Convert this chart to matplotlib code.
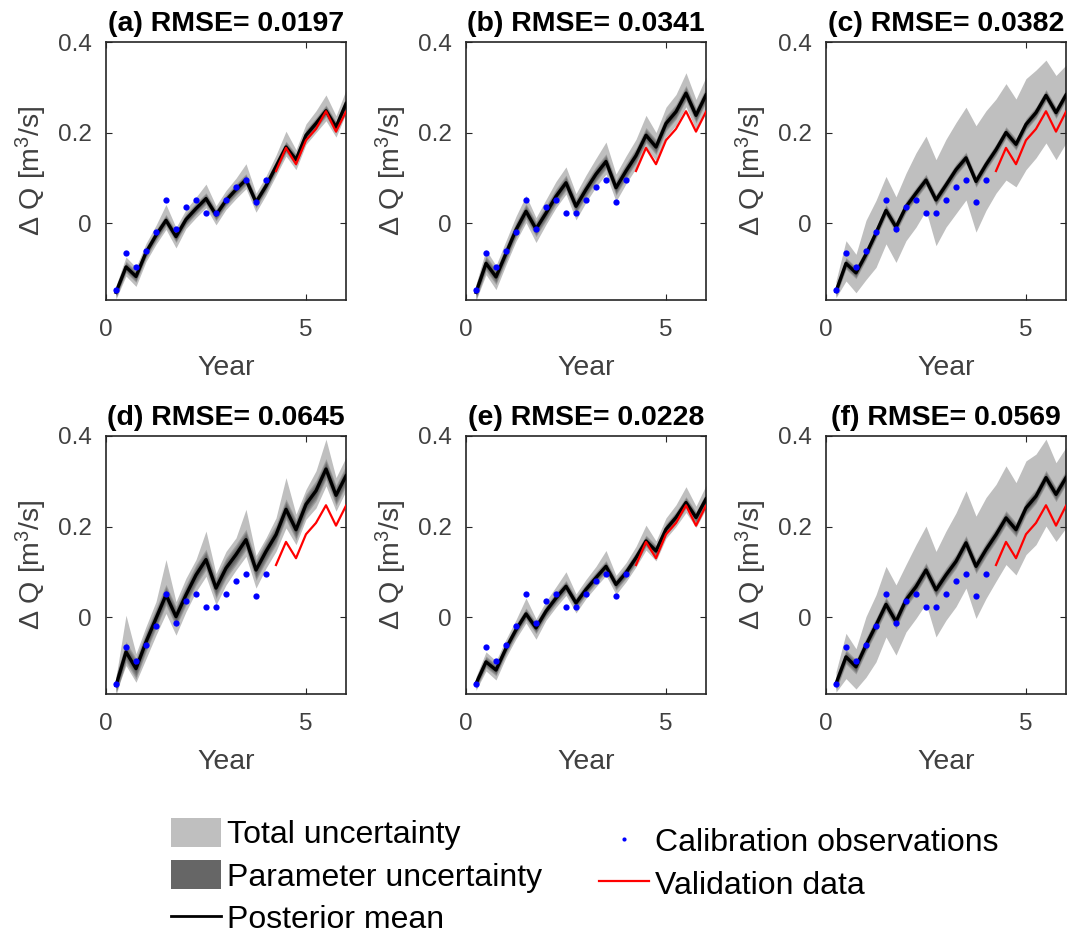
import numpy as np
import matplotlib
matplotlib.use('Agg')
from matplotlib import pyplot as plt
from matplotlib.patches import Patch
from matplotlib.lines import Line2D

plt.rcParams['font.family'] = ['Liberation Sans', 'DejaVu Sans']
plt.rcParams['mathtext.fontset'] = 'custom'
plt.rcParams['mathtext.rm'] = 'Liberation Sans'
plt.rcParams['mathtext.it'] = 'Liberation Sans:italic'

# quarterly time steps, calibration up to year 4, validation afterwards
t = np.arange(1, 25) * 0.25
n_cal = 16

obs = [-0.147, -0.067, -0.097, -0.061, -0.019, 0.051, -0.014, 0.035,
       0.050, 0.023, 0.023, 0.052, 0.080, 0.095, 0.046, 0.095]
valid = [0.115, 0.166, 0.130, 0.183, 0.208, 0.247, 0.202, 0.246]

titles = ['(a) RMSE= 0.0197', '(b) RMSE= 0.0341', '(c) RMSE= 0.0382',
          '(d) RMSE= 0.0645', '(e) RMSE= 0.0228', '(f) RMSE= 0.0569']

mean_a = [-0.153, -0.097, -0.118, -0.065, -0.027, 0.006, -0.030, 0.008, 0.032, 0.054, 0.018, 0.050,
          0.074, 0.096, 0.046, 0.082, 0.125, 0.168, 0.140, 0.194, 0.220, 0.248, 0.212, 0.264]
hi_a = [-0.138, -0.075, -0.098, -0.045, -0.005, 0.041, -0.010, 0.030, 0.057, 0.086, 0.038, 0.072,
        0.099, 0.131, 0.066, 0.104, 0.150, 0.203, 0.162, 0.219, 0.248, 0.283, 0.237, 0.294]
lo_a = [-0.168, -0.117, -0.140, -0.085, -0.047, -0.014, -0.055, -0.012, 0.012, 0.034, -0.004, 0.030,
        0.054, 0.076, 0.024, 0.062, 0.105, 0.148, 0.118, 0.174, 0.200, 0.226, 0.190, 0.242]

mean_b = [-0.153, -0.089, -0.119, -0.067, -0.015, 0.026, -0.013, 0.022, 0.059, 0.089, 0.037, 0.074,
          0.108, 0.136, 0.078, 0.115, 0.149, 0.194, 0.168, 0.220, 0.246, 0.287, 0.238, 0.283]
hi_b = [-0.135, -0.059, -0.094, -0.039, 0.015, 0.061, 0.012, 0.052, 0.092, 0.124, 0.065, 0.106,
        0.143, 0.179, 0.108, 0.148, 0.185, 0.238, 0.200, 0.256, 0.284, 0.332, 0.273, 0.323]
lo_b = [-0.171, -0.114, -0.147, -0.092, -0.040, 0.001, -0.043, -0.003, 0.034, 0.064, 0.007, 0.046,
        0.080, 0.108, 0.048, 0.087, 0.121, 0.166, 0.138, 0.190, 0.216, 0.257, 0.206, 0.253]

mean_c = [-0.151, -0.089, -0.110, -0.069, -0.022, 0.028, -0.009, 0.036, 0.066, 0.095, 0.051, 0.084,
          0.118, 0.144, 0.092, 0.129, 0.162, 0.200, 0.174, 0.218, 0.244, 0.282, 0.244, 0.283]
hi_c = [-0.128, -0.039, -0.069, 0.006, 0.050, 0.103, 0.058, 0.110, 0.155, 0.192, 0.140, 0.185,
        0.222, 0.256, 0.215, 0.248, 0.274, 0.308, 0.274, 0.319, 0.338, 0.360, 0.326, 0.349]
lo_c = [-0.165, -0.128, -0.154, -0.125, -0.098, -0.046, -0.087, -0.039, -0.009, 0.028, -0.050, -0.009,
        0.021, 0.051, -0.020, 0.028, 0.066, 0.095, 0.080, 0.118, 0.144, 0.177, 0.140, 0.177]

mean_d = [-0.151, -0.077, -0.114, -0.055, -0.003, 0.049, 0.001, 0.049, 0.093, 0.127, 0.064, 0.108,
          0.138, 0.171, 0.104, 0.145, 0.182, 0.238, 0.193, 0.249, 0.279, 0.327, 0.269, 0.312]
hi_d = [-0.133, 0.004, -0.081, -0.021, 0.034, 0.127, 0.034, 0.086, 0.127, 0.190, 0.096, 0.145,
        0.175, 0.238, 0.136, 0.175, 0.219, 0.308, 0.227, 0.282, 0.323, 0.393, 0.308, 0.353]
lo_d = [-0.166, -0.107, -0.144, -0.092, -0.040, 0.008, -0.040, 0.012, 0.056, 0.090, 0.027, 0.071,
        0.104, 0.134, 0.064, 0.108, 0.145, 0.197, 0.160, 0.216, 0.241, 0.290, 0.234, 0.279]

mean_e = [-0.147, -0.099, -0.117, -0.069, -0.028, 0.007, -0.024, 0.013, 0.042, 0.068, 0.031, 0.061,
          0.087, 0.112, 0.072, 0.098, 0.131, 0.168, 0.146, 0.194, 0.220, 0.253, 0.220, 0.261]
hi_e = [-0.132, -0.077, -0.097, -0.049, -0.006, 0.042, -0.004, 0.035, 0.067, 0.100, 0.051, 0.083,
        0.112, 0.147, 0.092, 0.120, 0.156, 0.203, 0.168, 0.219, 0.248, 0.288, 0.245, 0.291]
lo_e = [-0.162, -0.119, -0.139, -0.089, -0.048, -0.013, -0.049, -0.007, 0.022, 0.048, 0.009, 0.041,
        0.067, 0.092, 0.050, 0.078, 0.111, 0.148, 0.124, 0.174, 0.200, 0.231, 0.198, 0.239]

mean_f = [-0.147, -0.088, -0.110, -0.062, -0.018, 0.028, -0.010, 0.038, 0.067, 0.104, 0.060, 0.093,
          0.123, 0.164, 0.112, 0.149, 0.182, 0.219, 0.193, 0.241, 0.267, 0.308, 0.271, 0.308]
hi_f = [-0.121, -0.036, -0.070, 0.001, 0.049, 0.112, 0.071, 0.116, 0.160, 0.201, 0.145, 0.190,
        0.230, 0.279, 0.223, 0.264, 0.293, 0.334, 0.297, 0.345, 0.360, 0.393, 0.341, 0.375]
lo_f = [-0.166, -0.136, -0.159, -0.133, -0.099, -0.044, -0.084, -0.033, -0.003, 0.030, -0.044, -0.007,
        0.023, 0.064, -0.003, 0.041, 0.079, 0.116, 0.093, 0.138, 0.160, 0.201, 0.167, 0.197]

means = [mean_a, mean_b, mean_c, mean_d, mean_e, mean_f]
his = [hi_a, hi_b, hi_c, hi_d, hi_e, hi_f]
los = [lo_a, lo_b, lo_c, lo_d, lo_e, lo_f]
# half width of the parameter uncertainty band in each panel
par_hw = [0.013, 0.017, 0.013, 0.023, 0.013, 0.016]

c_total = '#bfbfbf'
c_param = '#666666'
c_text = '#404040'
c_axis = '#262626'

fig = plt.figure(figsize=(10.78, 9.38), dpi=100)
W, H = 1078.0, 938.0
lefts = [106, 466, 826]
tops = [42, 436]
aw, ah = 240, 258

for k in range(6):
    row, col = divmod(k, 3)
    x0 = lefts[col]
    y0 = tops[row]
    ax = fig.add_axes([x0 / W, 1 - (y0 + ah) / H, aw / W, ah / H])

    m = np.array(means[k])
    ax.fill_between(t, los[k], his[k], color=c_total, lw=0, zorder=1)
    # parameter band drawn as stacked layers so it darkens towards the mean
    for f in [1.0, 0.8, 0.6, 0.4, 0.2]:
        ax.fill_between(t, m - f * par_hw[k], m + f * par_hw[k],
                        color='#2a2a2a', alpha=0.22, lw=0, zorder=2)
    ax.plot(t, m, color='k', lw=2.4, zorder=3)
    ax.plot(t[n_cal:], valid, color='#ff0000', lw=1.6, zorder=4)
    ax.plot(t[:n_cal], obs, 'o', color='#0000ff', ms=4.5, mec='none', zorder=5)

    ax.set_xlim(0, 6)
    ax.set_ylim(-0.17, 0.40)
    ax.set_xticks([0, 5])
    ax.set_xticklabels(['0', '5'])
    ax.set_yticks([0, 0.2, 0.4])
    ax.set_yticklabels(['0', '0.2', '0.4'])
    ax.tick_params(direction='in', top=True, right=True, length=4, width=0.8,
                   colors=c_axis, labelcolor=c_text, labelsize=17.5)
    ax.tick_params(axis='x', pad=14)
    ax.tick_params(axis='y', pad=10)
    for s in ax.spines.values():
        s.set_color(c_axis)
        s.set_linewidth(1.2)

    ax.set_xlabel('Year', fontsize=20.5, color=c_text, labelpad=10)
    ax.set_ylabel('Δ Q [m$^3$/s]', fontsize=20.5, color=c_text, labelpad=7)
    ax.set_title(titles[k], fontsize=20.5, fontweight='bold', color='k', pad=8)

h_left = [Patch(facecolor=c_total, edgecolor='none'),
          Patch(facecolor=c_param, edgecolor='none'),
          Line2D([], [], color='k', lw=2)]
l_left = ['Total uncertainty', 'Parameter uncertainty', 'Posterior mean']
h_right = [Line2D([], [], ls='none', marker='o', ms=3, color='#0000ff', mec='none'),
           Line2D([], [], color='#ff0000', lw=1.6)]
l_right = ['Calibration observations', 'Validation data']

leg_kw = dict(frameon=False, fontsize=23, handlelength=1.55, handleheight=1.0,
              handletextpad=0.2, labelspacing=0.32, borderaxespad=0, borderpad=0,
              loc='upper left')
fig.legend(h_left, l_left, bbox_to_anchor=(171 / W, 1 - 818 / H), **leg_kw)
fig.legend(h_right, l_right, bbox_to_anchor=(599 / W, 1 - 826 / H), **leg_kw)

fig.savefig('out.png', dpi=100, facecolor='white')
